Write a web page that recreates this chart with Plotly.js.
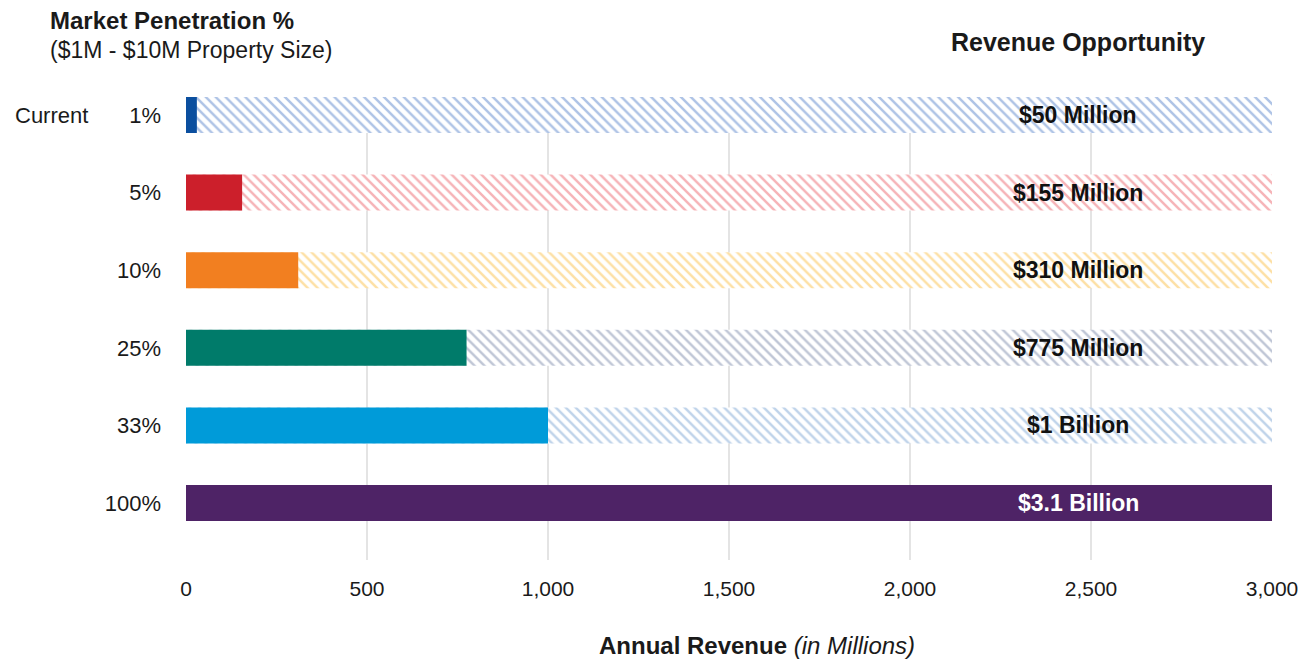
<!DOCTYPE html>
<html>
<head>
<meta charset="utf-8">
<script src="https://cdn.plot.ly/plotly-3.0.1.min.js"></script>
<style>html,body{margin:0;padding:0;background:#fff;}#chart{width:1312px;height:661px;}</style>
</head>
<body>
<div id="chart"></div>
<script>
// ---- data ----
const penetration = ['1%', '5%', '10%', '25%', '33%', '100%'];
const revenue = [30, 155, 310, 775, 1000, 3100];          // annual revenue, millions
const fullMarket = [3100, 3100, 3100, 3100, 3100, 0];       // hatched remaining opportunity
const opportunityLabels = ['$50 Million', '$155 Million', '$310 Million', '$775 Million', '$1 Billion', '$3.1 Billion'];
const xTicks = [0, 500, 1000, 1500, 2000, 2500, 3000];

// ---- styles ----
const barColors = ['#0b4f9f', '#cc1f2b', '#f27f20', '#007b6a', '#009bd9', '#4e2366'];
const hatchColors = ['#aec3e6', '#f6b3b7', '#fde0a4', '#bfc6d6', '#bfd3ea', '#ffffff'];
const labelColors = ['#111', '#111', '#111', '#111', '#111', '#ffffff'];
const FONT = 'Liberation Sans, Arial, sans-serif';

const traces = [
  {
    type: 'bar', orientation: 'h',
    y: penetration, x: fullMarket,
    width: 0.464,
    marker: {
      color: '#ffffff',
      line: {width: 0},
      pattern: {shape: '\\', fgcolor: hatchColors, bgcolor: '#ffffff', size: 7, solidity: 0.35, fillmode: 'replace'}
    },
    hoverinfo: 'skip', showlegend: false
  },
  {
    type: 'bar', orientation: 'h',
    y: penetration, x: revenue,
    width: 0.464,
    marker: {color: barColors, line: {width: 0}},
    showlegend: false
  }
];

const annotations = penetration.map((p, i) => ({
  xref: 'x', yref: 'y', x: 2465, y: p,
  text: '<b>' + opportunityLabels[i] + '</b>',
  showarrow: false,
  font: {family: FONT, size: 23, color: labelColors[i]}
}));

annotations.push(
  {xref: 'paper', yref: 'y', x: -0.159, y: '1%', xanchor: 'left', text: 'Current', showarrow: false,
   font: {family: FONT, size: 22, color: '#1a1a1a'}},
  {xref: 'paper', yref: 'paper', x: -0.127, y: 1.166, xanchor: 'left', yanchor: 'middle',
   text: '<b>Market Penetration %</b>', showarrow: false,
   font: {family: FONT, size: 24, color: '#1a1a1a'}},
  {xref: 'paper', yref: 'paper', x: -0.127, y: 1.101, xanchor: 'left', yanchor: 'middle',
   text: '($1M - $10M Property Size)', showarrow: false,
   font: {family: FONT, size: 23, color: '#1a1a1a'}},
  {xref: 'paper', yref: 'paper', x: 0.821, y: 1.119, xanchor: 'center', yanchor: 'middle',
   text: '<b>Revenue Opportunity</b>', showarrow: false,
   font: {family: FONT, size: 25, color: '#1a1a1a'}},
  {xref: 'paper', yref: 'paper', x: 0.526, y: -0.185, xanchor: 'center', yanchor: 'middle',
   text: '<b>Annual Revenue</b> <i>(in Millions)</i>', showarrow: false,
   font: {family: FONT, size: 24, color: '#1a1a1a'}}
);

const layout = {
  width: 1312, height: 661,
  margin: {l: 186, r: 40, t: 97, b: 101, pad: 0},
  paper_bgcolor: '#ffffff', plot_bgcolor: '#ffffff',
  barmode: 'overlay',
  font: {family: FONT, size: 21, color: '#1a1a1a'},
  xaxis: {
    range: [0, 3000], tickvals: xTicks, tickformat: ',',
    showgrid: true, gridcolor: '#e4e4e4', gridwidth: 1.5,
    zeroline: false, showline: false,
    ticks: '', ticklabelstandoff: 14,
    tickfont: {family: FONT, size: 21, color: '#1a1a1a'},
    fixedrange: true
  },
  yaxis: {
    type: 'category',
    categoryorder: 'array', categoryarray: penetration,
    range: [5.734, -0.232],
    showgrid: false, zeroline: false, showline: false,
    ticks: '', ticklabelstandoff: 24,
    tickfont: {family: FONT, size: 22, color: '#1a1a1a'},
    fixedrange: true
  },
  annotations: annotations,
  showlegend: false
};

Plotly.newPlot('chart', traces, layout, {displayModeBar: false, staticPlot: true});
</script>
</body>
</html>
